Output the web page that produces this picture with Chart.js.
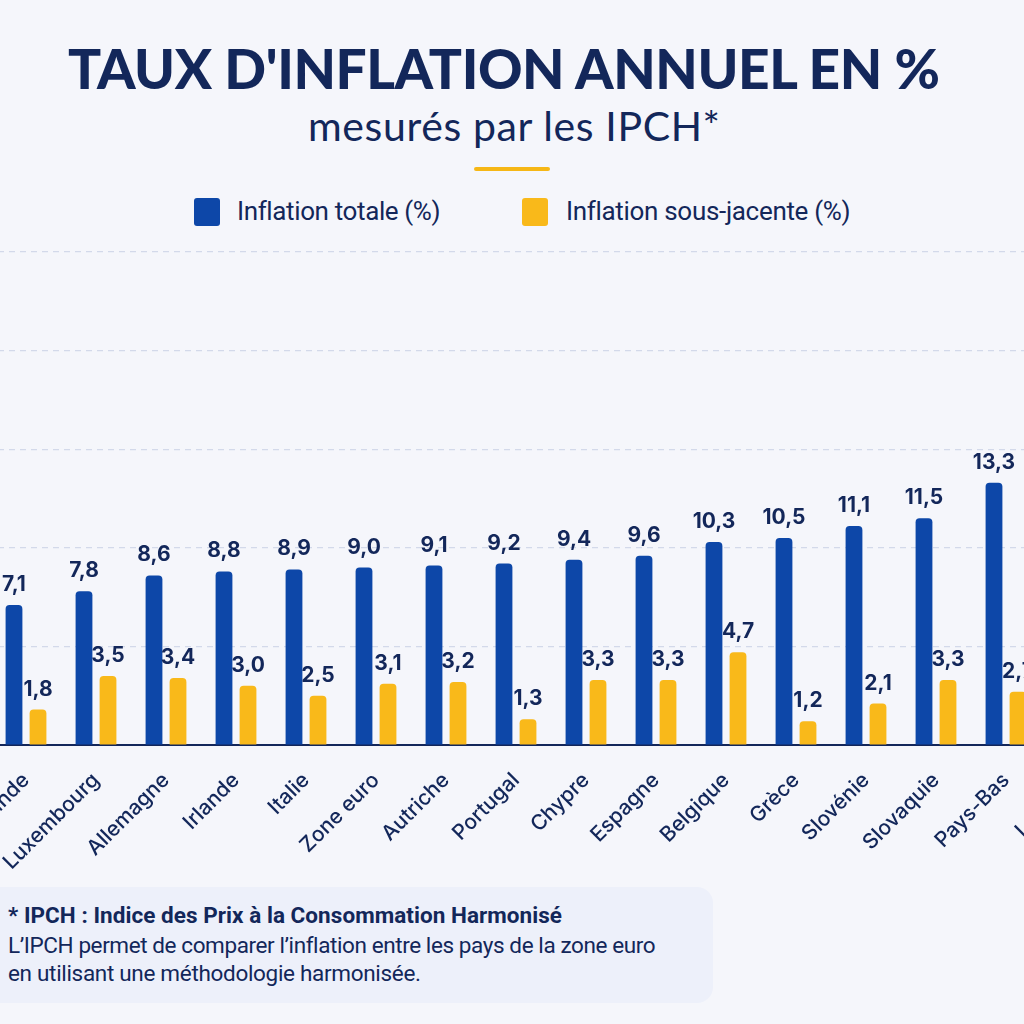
<!DOCTYPE html>
<html lang="fr">
<head>
<meta charset="utf-8">
<title>Taux d'inflation annuel en %</title>
<script src="https://cdn.jsdelivr.net/npm/chart.js@4.4.1/dist/chart.umd.min.js"></script>
<style>
  html, body { margin:0; padding:0; width:1024px; height:1024px; overflow:hidden; background:#f5f6fb; }
  body { position:relative; font-family: Inter, "Noto Sans", sans-serif; color:#13275a; }
  .abs { position:absolute; white-space:nowrap; }
  #title { left:68px; top:34px; font-family: Lato, Inter, sans-serif; font-weight:900; font-size:55px; line-height:68px; color:#13275a; }
  #subtitle { left:308px; top:100px; font-family: Lato, Inter, sans-serif; font-weight:400; font-size:41px; line-height:52px; color:#13275a; }
  #rule { left:474px; top:167px; width:76px; height:4px; border-radius:2px; background:#f6b716; }
  .sw { position:absolute; width:26px; height:28px; border-radius:3px; top:198px; }
  .lg { position:absolute; top:193px; font-family: Roboto, sans-serif; font-size:26px; line-height:36px; color:#13275a; white-space:nowrap; }
  #chartBox { position:absolute; left:-79px; top:240px; width:1190px; height:640px; }
  #note { position:absolute; left:-20px; top:887px; width:733px; height:116px; border-radius:16px; background:#edf0fa; }
  .nt { position:absolute; left:8px; font-family: Roboto, sans-serif; font-size:22.5px; color:#13275a; white-space:nowrap; }
</style>
</head>
<body>
<div id="title" class="abs" data-w="872">TAUX D'INFLATION ANNUEL EN %</div>
<div id="subtitle" class="abs" data-w="412">mesurés par les IPCH*</div>
<div id="rule" class="abs"></div>

<div class="sw" style="left:194px; background:#0d47a8;"></div>
<div class="lg" style="left:237px;" data-w="203">Inflation totale (%)</div>
<div class="sw" style="left:522px; background:#f9b91a;"></div>
<div class="lg" style="left:566px;" data-w="284">Inflation sous-jacente (%)</div>

<div id="chartBox"><canvas id="c"></canvas></div>

<div id="note"></div>
<div class="nt" style="top:902px; font-weight:700;" data-w="554">* IPCH : Indice des Prix à la Consommation Harmonisé</div>
<div class="nt" style="top:932px;" data-w="647">L’IPCH permet de comparer l’inflation entre les pays de la zone euro</div>
<div class="nt" style="top:960px;" data-w="413">en utilisant une méthodologie harmonisée.</div>

<script>
// ---- Data ----
const countries = ["Finlande","Luxembourg","Allemagne","Irlande","Italie","Zone euro","Autriche","Portugal","Chypre","Espagne","Belgique","Grèce","Slovénie","Slovaquie","Pays-Bas"];
const inflationTotale = [7.1, 7.8, 8.6, 8.8, 8.9, 9.0, 9.1, 9.2, 9.4, 9.6, 10.3, 10.5, 11.1, 11.5, 13.3];
const inflationSousJacente = [1.8, 3.5, 3.4, 3.0, 2.5, 3.1, 3.2, 1.3, 3.3, 3.3, 4.7, 1.2, 2.1, 3.3, 2.7];
// category cut off at the right edge (bars outside the visible frame, values not readable)
const hiddenRight = ["Lettonie"];
const seriesNames = ["Inflation totale (%)", "Inflation sous-jacente (%)"];
const yTicks = [0, 5, 10, 15, 20, 25];

// ---- fit text widths ----
document.querySelectorAll('[data-w]').forEach(el => {
  const target = parseFloat(el.dataset.w);
  const w = el.getBoundingClientRect().width;
  const n = el.textContent.length;
  if (n > 1) el.style.letterSpacing = ((target - w) / (n - 1)) + 'px';
});

// ---- chart ----
const labels = [""].concat(countries, hiddenRight);
const pad = arr => [null].concat(arr, hiddenRight.map(() => null));

const valueLabels = {
  id: 'valueLabels',
  afterDatasetsDraw(chart) {
    const ctx = chart.ctx;
    ctx.save();
    ctx.fillStyle = '#13275a';
    ctx.font = '700 21px Inter, "Noto Sans", sans-serif';
    ctx.textAlign = 'center';
    ctx.textBaseline = 'alphabetic';
    chart.data.datasets.forEach((ds, i) => {
      chart.getDatasetMeta(i).data.forEach((el, j) => {
        const v = ds.data[j];
        if (v === null || v === undefined) return;
        ctx.fillText(v.toFixed(1).replace('.', ','), el.x, el.y - 14);
      });
    });
    ctx.restore();
  }
};

new Chart(document.getElementById('c'), {
  type: 'bar',
  data: {
    labels: labels,
    datasets: [
      { label: seriesNames[0], data: pad(inflationTotale), backgroundColor: '#0d47a8',
        borderRadius: { topLeft: 4, topRight: 4 }, borderSkipped: 'bottom',
        categoryPercentage: 0.686, barPercentage: 0.70 },
      { label: seriesNames[1], data: pad(inflationSousJacente), backgroundColor: '#f9b91a',
        borderRadius: { topLeft: 4, topRight: 4 }, borderSkipped: 'bottom',
        categoryPercentage: 0.686, barPercentage: 0.70 }
    ]
  },
  options: {
    responsive: true,
    maintainAspectRatio: false,
    animation: false,
    layout: { padding: { top: 12, left: 0, right: 0, bottom: 0 } },
    plugins: { legend: { display: false }, tooltip: { enabled: false } },
    scales: {
      x: {
        grid: { display: false },
        border: { display: true, color: '#13275a', width: 2 },
        ticks: { color: '#13275a', font: { family: 'Inter', size: 21, weight: '500' },
                 minRotation: 45, maxRotation: 45, autoSkip: false, padding: 15 },
        afterFit: s => { s.height = 135; }
      },
      y: {
        min: yTicks[0], max: yTicks[yTicks.length - 1],
        afterBuildTicks: s => { s.ticks = yTicks.map(v => ({ value: v })); },
        ticks: { display: false },
        grid: { color: '#d3d9ea', lineWidth: 1.2, drawTicks: false },
        border: { display: false, dash: [6, 5] },
        afterFit: s => { s.width = 0; }
      }
    }
  },
  plugins: [valueLabels]
});
</script>
</body>
</html>
